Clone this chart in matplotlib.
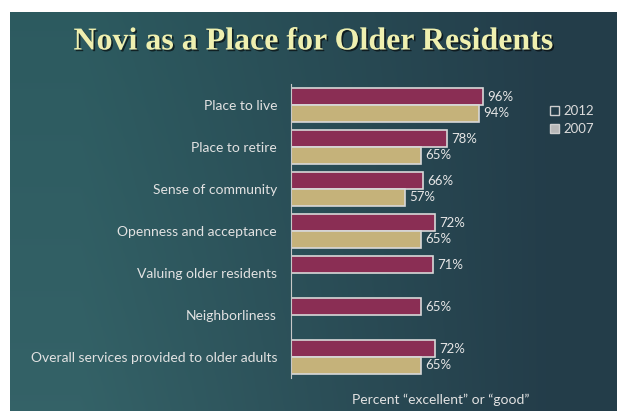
import numpy as np
import matplotlib
matplotlib.use("Agg")
import matplotlib.pyplot as plt
import matplotlib.patheffects as pe
from matplotlib.patches import Patch

categories = ["Place to live", "Place to retire", "Sense of community",
              "Openness and acceptance", "Valuing older residents",
              "Neighborliness", "Overall services provided to older adults"]
pct_2012 = [96, 78, 66, 72, 71, 65, 72]
pct_2007 = [94, 65, 57, 65, None, None, 65]
years = ["2012", "2007"]

W, H = 617, 411
fig = plt.figure(figsize=(W / 100, H / 100), dpi=100, facecolor="white")

# slide background (dark teal, lighter on the left)
bg = fig.add_axes([10 / W, 0, (W - 10) / W, (H - 12) / H])
xx = np.linspace(0, 1, 300)
yy = np.linspace(0, 1, 200)[:, None]
left = np.array([0.19, 0.37, 0.39])
right = np.array([0.14, 0.24, 0.29])
t = np.clip(xx * 1.3 - 0.15, 0, 1)[None, :, None]
img = left * (1 - t) + right * t
img = img + 0.03 * (yy[..., None] - 0.5) * (1 - t)
bg.imshow(np.clip(img, 0, 1), aspect="auto", extent=[0, 1, 0, 1])
bg.set_axis_off()

fig.text(314 / W, 1 - 42 / H, "Novi as a Place for Older Residents",
         ha="center", va="center", fontsize=23, fontweight="bold",
         family="Liberation Serif", color="#eff0b0",
         path_effects=[pe.withSimplePatchShadow(offset=(1.2, -1.2),
                                                shadow_rgbFace="black", alpha=0.6)])

ax = fig.add_axes([291 / W, (H - 378) / H, 200 / W, 294 / H])
ax.set_facecolor("none")
ypos = np.arange(len(categories))
bh = 0.4
maroon = "#8a2e54"
tan = "#c5b27a"
edge = "#d8d8d8"

ax.barh(ypos - bh / 2, pct_2012, height=bh, color=maroon, edgecolor=edge,
        linewidth=1.2, label=years[0])
y07 = [y + bh / 2 for y, v in zip(ypos, pct_2007) if v is not None]
v07 = [v for v in pct_2007 if v is not None]
ax.barh(y07, v07, height=bh, color=tan, edgecolor=edge, linewidth=1.2,
        label=years[1])

for y, v in zip(ypos, pct_2012):
    ax.text(v + 2, y - bh / 2, f"{v}%", va="center", ha="left",
            fontsize=9.5, family="Lato", color="#e6e6e6", clip_on=False)
for y, v in zip(y07, v07):
    ax.text(v + 2, y, f"{v}%", va="center", ha="left",
            fontsize=9.5, family="Lato", color="#e6e6e6", clip_on=False)

ax.set_xlim(0, 100)
ax.set_ylim(len(categories) - 0.5, -0.5)
ax.set_xticks([])
ax.set_yticks(ypos)
ax.set_yticklabels(categories, family="Lato", fontsize=10, color="#e2e2e2")
ax.tick_params(axis="y", length=0, pad=10)
for s in ["top", "right", "bottom"]:
    ax.spines[s].set_visible(False)
ax.spines["left"].set_color("#c8c8c8")
ax.spines["left"].set_linewidth(0.8)

fig.text(441 / W, 1 - 400 / H, "Percent \u201cexcellent\u201d or \u201cgood\u201d",
         ha="center", va="center", fontsize=10, family="Lato", color="#e2e2e2")

handles = [Patch(facecolor="none", edgecolor="#cfcfcf", label=years[0]),
           Patch(facecolor="#b8b8b8", edgecolor="#cfcfcf", label=years[1])]
leg = fig.legend(handles=handles, loc="upper left",
                 bbox_to_anchor=(538 / W, 1 - 93 / H), frameon=False,
                 handlelength=0.7, handleheight=0.7,
                 handletextpad=0.3, labelspacing=0.5,
                 prop={"family": "Lato", "size": 9.5})
for txt in leg.get_texts():
    txt.set_color("#dcdcdc")

fig.savefig("out.png", dpi=100, facecolor="white")
